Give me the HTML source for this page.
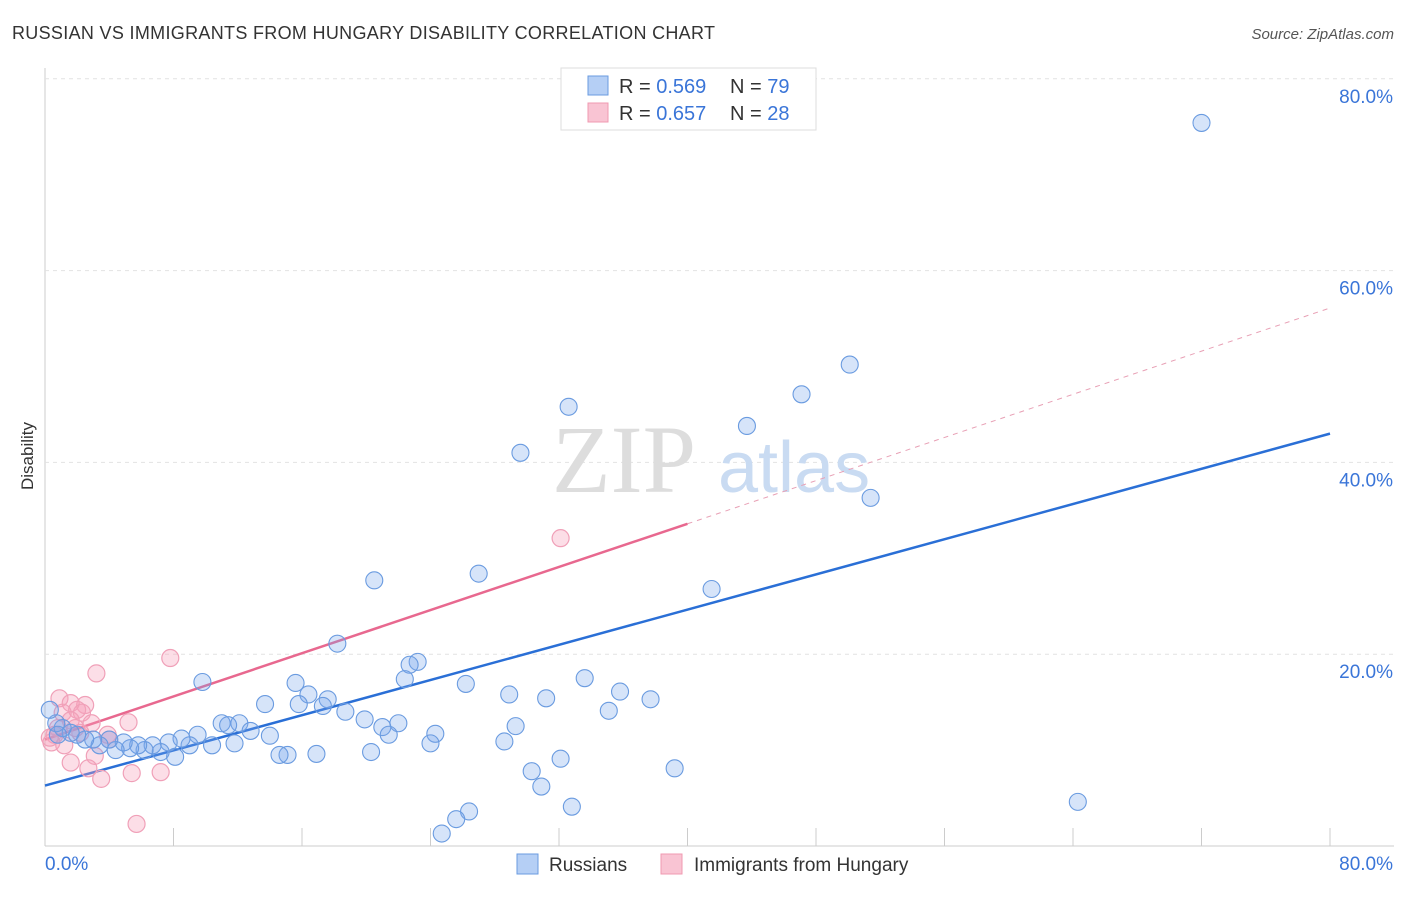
<!DOCTYPE html>
<html><head><meta charset="utf-8"><style>
body{margin:0;background:#fff;font-family:"Liberation Sans",sans-serif}
</style></head><body>
<svg id="chart" width="1406" height="892" xmlns="http://www.w3.org/2000/svg" font-family="Liberation Sans, sans-serif">
<text x="12" y="39" font-size="18" fill="#333" textLength="703">RUSSIAN VS IMMIGRANTS FROM HUNGARY DISABILITY CORRELATION CHART</text>
<text x="1394" y="39" font-size="15" fill="#555" font-style="italic" text-anchor="end">Source: ZipAtlas.com</text>
<text transform="translate(33,456) rotate(-90)" font-size="17" fill="#333" text-anchor="middle">Disability</text>
<g id="grid"></g>
<text x="552" y="492" font-size="96" fill="#ddd" font-family="Liberation Serif, serif">ZIP</text>
<text x="718" y="492" font-size="72" fill="#c9dbf2">atlas</text>
<g id="lines"></g>
<g id="points"></g>
<g>
<rect x="561" y="68" width="255" height="62" fill="#fff" stroke="#ddd"/>
<rect x="588" y="76" width="20" height="19" fill="#b5cff5" stroke="#6a9be0"/>
<rect x="588" y="103" width="20" height="19" fill="#f9c4d3" stroke="#f09ab0"/>
<text x="619" y="93" font-size="20" fill="#333">R = <tspan fill="#3a75d8">0.569</tspan></text>
<text x="730" y="93" font-size="20" fill="#333">N = <tspan fill="#3a75d8">79</tspan></text>
<text x="619" y="120" font-size="20" fill="#333">R = <tspan fill="#3a75d8">0.657</tspan></text>
<text x="730" y="120" font-size="20" fill="#333">N = <tspan fill="#3a75d8">28</tspan></text>
</g>
<g>
<rect x="517" y="854" width="21" height="20" fill="#b5cff5" stroke="#6a9be0"/>
<text x="549" y="871" font-size="19" fill="#333">Russians</text>
<rect x="661" y="854" width="21" height="20" fill="#f9c4d3" stroke="#f09ab0"/>
<text x="694" y="871" font-size="19" fill="#333">Immigrants from Hungary</text>
</g>
</svg>
<script>
const yTicks=[20,40,60,80];
const yTickLabels=["20.0%","40.0%","60.0%","80.0%"];
const xTicks=[0,8,16,24,32,40,48,56,64,72,80];
const blueX=[72.0,50.1,47.1,43.7,32.6,29.6,51.4,41.5,20.5,27.0,18.2,23.2,22.7,22.4,26.2,33.6,35.8,37.7,28.9,31.2,35.1,9.8,15.6,16.4,17.6,13.7,15.8,17.3,18.7,19.9,11.0,12.1,11.4,12.8,14.0,21.0,22.0,21.4,24.3,24.0,29.3,28.6,32.1,30.3,30.9,39.2,32.8,26.4,25.6,24.7,64.3,20.3,16.9,15.1,14.6,11.8,10.4,9.5,9.0,8.5,7.7,8.1,7.2,6.7,6.2,5.8,5.3,4.9,4.4,4.0,3.4,3.0,2.5,2.0,1.6,1.1,0.7,0.3,0.8];
const blueY=[75.4,50.2,47.1,43.8,45.8,41.0,36.3,26.8,27.7,28.4,21.1,19.2,18.9,17.4,16.9,17.5,16.1,15.3,15.8,15.4,14.1,17.1,17.0,15.8,15.3,14.8,14.8,14.6,14.0,13.2,12.8,12.8,12.6,12.0,11.5,12.4,12.8,11.6,11.7,10.7,12.5,10.9,9.1,7.8,6.2,8.1,4.1,3.6,2.8,1.3,4.6,9.8,9.6,9.5,9.5,10.7,10.5,11.6,10.5,11.2,10.8,9.3,9.8,10.5,10.0,10.5,10.2,10.8,10.0,11.1,10.5,11.1,11.1,11.6,11.8,12.3,12.8,14.2,11.6];
const pinkX=[32.1,7.8,3.2,0.9,2.5,1.6,2.0,2.3,1.1,2.9,5.2,1.6,3.9,2.2,0.6,0.4,1.2,3.1,1.6,2.7,3.5,5.4,7.2,5.7,1.9,0.8,4.0,0.3];
const pinkY=[32.1,19.6,18.0,15.4,14.7,14.9,14.2,13.9,13.9,12.8,12.9,13.1,11.6,11.8,11.6,10.8,10.5,9.4,8.7,8.1,7.0,7.6,7.7,2.3,12.3,12.3,11.1,11.3];
const blueTrend=[6.3,43.0];
const pinkTrend=[11.1,56.1];
const pinkSolidEnd=40;
const X=v=>45+v*16.0625, Y=v=>846-v*9.59;
const NS="http://www.w3.org/2000/svg";
function mk(tag,attrs,parent){const e=document.createElementNS(NS,tag);for(const k in attrs)e.setAttribute(k,attrs[k]);document.getElementById(parent).appendChild(e);return e;}
mk('line',{x1:45,y1:68,x2:45,y2:846,stroke:'#ccc'},'grid');
mk('line',{x1:45,y1:846,x2:1394,y2:846,stroke:'#ccc'},'grid');
yTicks.forEach((t,i)=>{
 const l=mk('line',{x1:45,y1:Y(t),x2:1394,y2:Y(t),stroke:'#e2e2e2','stroke-dasharray':'4,4'},'grid');
 
 
 const tx=mk('text',{x:1393,y:Y(t)+24,'font-size':19,fill:'#3a75d8','text-anchor':'end'},'grid');
 tx.textContent=yTickLabels[i];
 
 
});
xTicks.forEach(t=>{
 const l=mk('line',{x1:X(t),y1:828,x2:X(t),y2:846,stroke:'#ccc'},'grid');
 
 
});
const x0=mk('text',{x:45,y:870,'font-size':19,fill:'#3a75d8'},'grid');x0.textContent='0.0%';


const x1=mk('text',{x:1393,y:870,'font-size':19,fill:'#3a75d8','text-anchor':'end'},'grid');x1.textContent='80.0%';


const py=x=>pinkTrend[0]+(pinkTrend[1]-pinkTrend[0])*x/80;
let l1=mk('line',{x1:X(0),y1:Y(pinkTrend[0]),x2:X(pinkSolidEnd),y2:Y(py(pinkSolidEnd)),stroke:'#e8688f','stroke-width':2.5},'lines');


let l2=mk('line',{x1:X(pinkSolidEnd),y1:Y(py(pinkSolidEnd)),x2:X(80),y2:Y(pinkTrend[1]),stroke:'#e8a0b5','stroke-width':1,'stroke-dasharray':'5,5'},'lines');


pinkX.forEach((x,i)=>{
 const c=mk('circle',{cx:X(x),cy:Y(pinkY[i]),r:8.5,fill:'rgba(245,160,185,0.35)',stroke:'#f0a0b8','stroke-width':1.2},'points');
 
 
});
blueX.forEach((x,i)=>{
 const c=mk('circle',{cx:X(x),cy:Y(blueY[i]),r:8.5,fill:'rgba(120,165,235,0.3)',stroke:'#6a9be0','stroke-width':1.1},'points');
 
 
});
let l3=mk('line',{x1:X(0),y1:Y(blueTrend[0]),x2:X(80),y2:Y(blueTrend[1]),stroke:'#2a6fd6','stroke-width':2.5},'lines');


</script>
</body></html>
